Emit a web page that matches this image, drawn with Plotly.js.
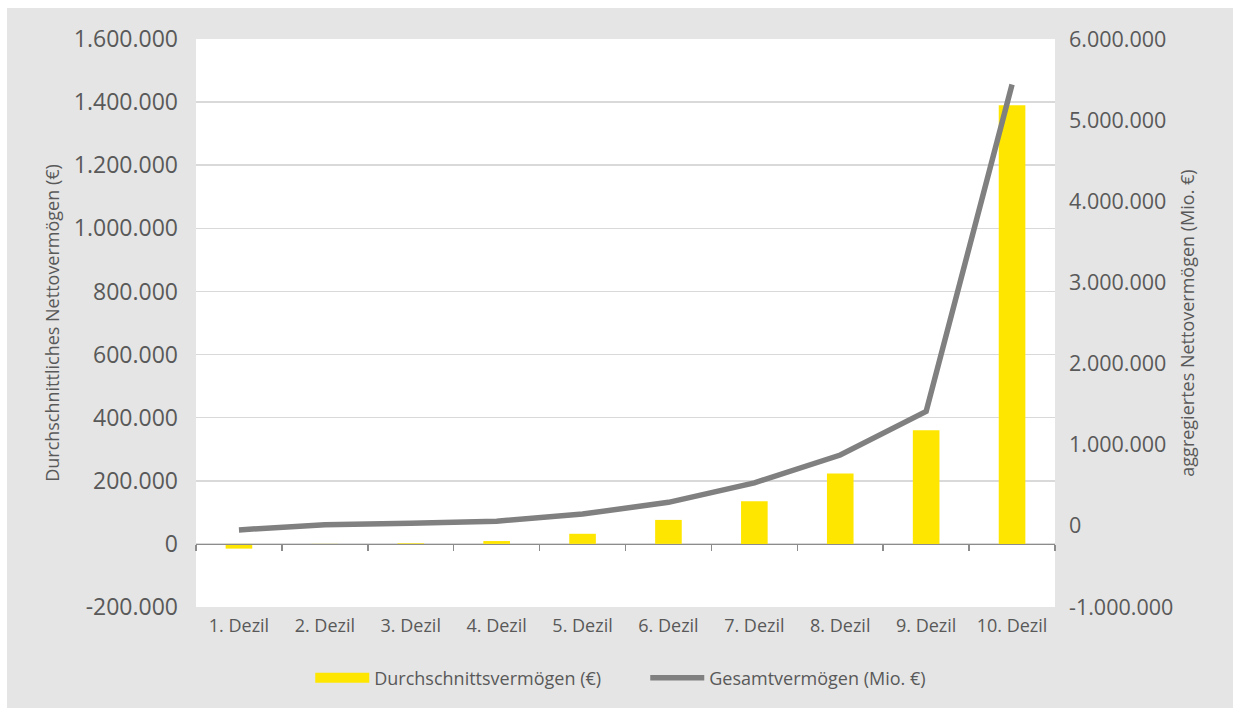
<!DOCTYPE html>
<html>
<head>
<meta charset="utf-8">
<script src="https://cdn.plot.ly/plotly-3.0.1.min.js"></script>
<style>
  html, body { margin: 0; padding: 0; background: #ffffff; }
  #chart { position: absolute; left: 7px; top: 8px; width: 1226px; height: 700px; }
</style>
</head>
<body>
<div id="chart"></div>
<script>
// ---- data ----
const categories = ["1. Dezil", "2. Dezil", "3. Dezil", "4. Dezil", "5. Dezil",
                    "6. Dezil", "7. Dezil", "8. Dezil", "9. Dezil", "10. Dezil"];
const averageWealth = [-15000, -1000, 2000, 9000, 32000, 76000, 135000, 223000, 360000, 1390000];
const totalWealth = [-50000, 15000, 33000, 58000, 145000, 290000, 530000, 873000, 1410000, 5440000];
const seriesNames = ["Durchschnittsvermögen (€)", "Gesamtvermögen (Mio. €)"];
const leftTicks = [-200000, 0, 200000, 400000, 600000, 800000, 1000000, 1200000, 1400000, 1600000];
const rightTicks = [-1000000, 0, 1000000, 2000000, 3000000, 4000000, 5000000, 6000000];
const leftTitle = "Durchschnittliches Nettovermögen (€)";
const rightTitle = "aggregiertes Nettovermögen (Mio. €)";

function fmt(v) {
  const s = Math.abs(v).toString().replace(/\B(?=(\d{3})+(?!\d))/g, ".");
  return (v < 0 ? "-" : "") + s;
}

const textColor = "#595959";
const fontFam = "'Open Sans', 'Noto Sans', sans-serif";
const barColor = "#FFE600";
const lineColor = "#808080";

const traces = [
  {
    type: "bar",
    name: seriesNames[0],
    x: categories,
    y: averageWealth,
    xaxis: "x",
    yaxis: "y",
    marker: { color: barColor },
    showlegend: false,
    hoverinfo: "x+y"
  },
  {
    // legend swatch for the bars (wide flat rectangle as in the reference)
    type: "scatter",
    mode: "lines",
    name: seriesNames[0],
    x: [categories[0]],
    y: [null],
    xaxis: "x",
    yaxis: "y",
    line: { color: barColor, width: 13 },
    showlegend: true,
    hoverinfo: "skip"
  },
  {
    type: "scatter",
    mode: "lines",
    name: seriesNames[1],
    x: categories,
    y: totalWealth,
    xaxis: "x2",
    yaxis: "y2",
    line: { color: lineColor, width: 5.5 },
    hoverinfo: "x+y"
  }
];

const yMin = leftTicks[0], yMax = leftTicks[leftTicks.length - 1];
const zeroPos = (0 - yMin) / (yMax - yMin);

const layout = {
  width: 1226,
  height: 700,
  paper_bgcolor: "#e5e5e5",
  plot_bgcolor: "#ffffff",
  margin: { l: 189, r: 178, t: 31, b: 92 },
  font: { family: fontFam, color: textColor, size: 18 },
  bargap: 0.69,
  showlegend: true,
  legend: {
    orientation: "h",
    x: 0.523, xanchor: "center",
    y: -0.125, yanchor: "middle",
    font: { size: 18, color: textColor },
    bgcolor: "rgba(0,0,0,0)",
    traceorder: "normal",
    itemwidth: 54,
    entrywidth: 266,
    entrywidthmode: "pixels"
  },
  xaxis: {
    type: "category",
    categoryorder: "array",
    categoryarray: categories,
    range: [-0.5, categories.length - 0.5],
    showline: false,
    ticks: "",
    showgrid: false,
    zeroline: false,
    tickfont: { size: 18, color: textColor },
    ticklabelstandoff: 6
  },
  xaxis2: {
    type: "category",
    categoryorder: "array",
    categoryarray: categories,
    range: [-0.5, categories.length - 0.5],
    overlaying: "x",
    anchor: "free",
    position: zeroPos,
    side: "bottom",
    showline: true,
    linecolor: "#8c8c8c",
    linewidth: 1.5,
    ticks: "outside",
    tickson: "boundaries",
    ticklen: 6,
    tickwidth: 1.5,
    tickcolor: "#8c8c8c",
    showticklabels: false,
    showgrid: false,
    zeroline: false
  },
  yaxis: {
    range: [yMin, yMax],
    tickvals: leftTicks,
    ticktext: leftTicks.map(fmt),
    showgrid: true,
    gridcolor: "#d9d9d9",
    gridwidth: 1.5,
    zeroline: false,
    showline: false,
    ticks: "",
    tickfont: { size: 23, color: textColor },
    ticklabelstandoff: 17,
    title: { text: leftTitle, font: { size: 18, color: textColor }, standoff: 9 }
  },
  yaxis2: {
    range: [rightTicks[0], rightTicks[rightTicks.length - 1]],
    tickvals: rightTicks,
    ticktext: rightTicks.map(fmt),
    overlaying: "y",
    side: "right",
    showgrid: false,
    zeroline: false,
    showline: false,
    ticks: "",
    tickfont: { size: 21.5, color: textColor },
    ticklabelstandoff: 13,
    title: { text: rightTitle, font: { size: 18, color: textColor }, standoff: 9 }
  }
};

Plotly.newPlot("chart", traces, layout, { displayModeBar: false, staticPlot: true });
</script>
</body>
</html>
